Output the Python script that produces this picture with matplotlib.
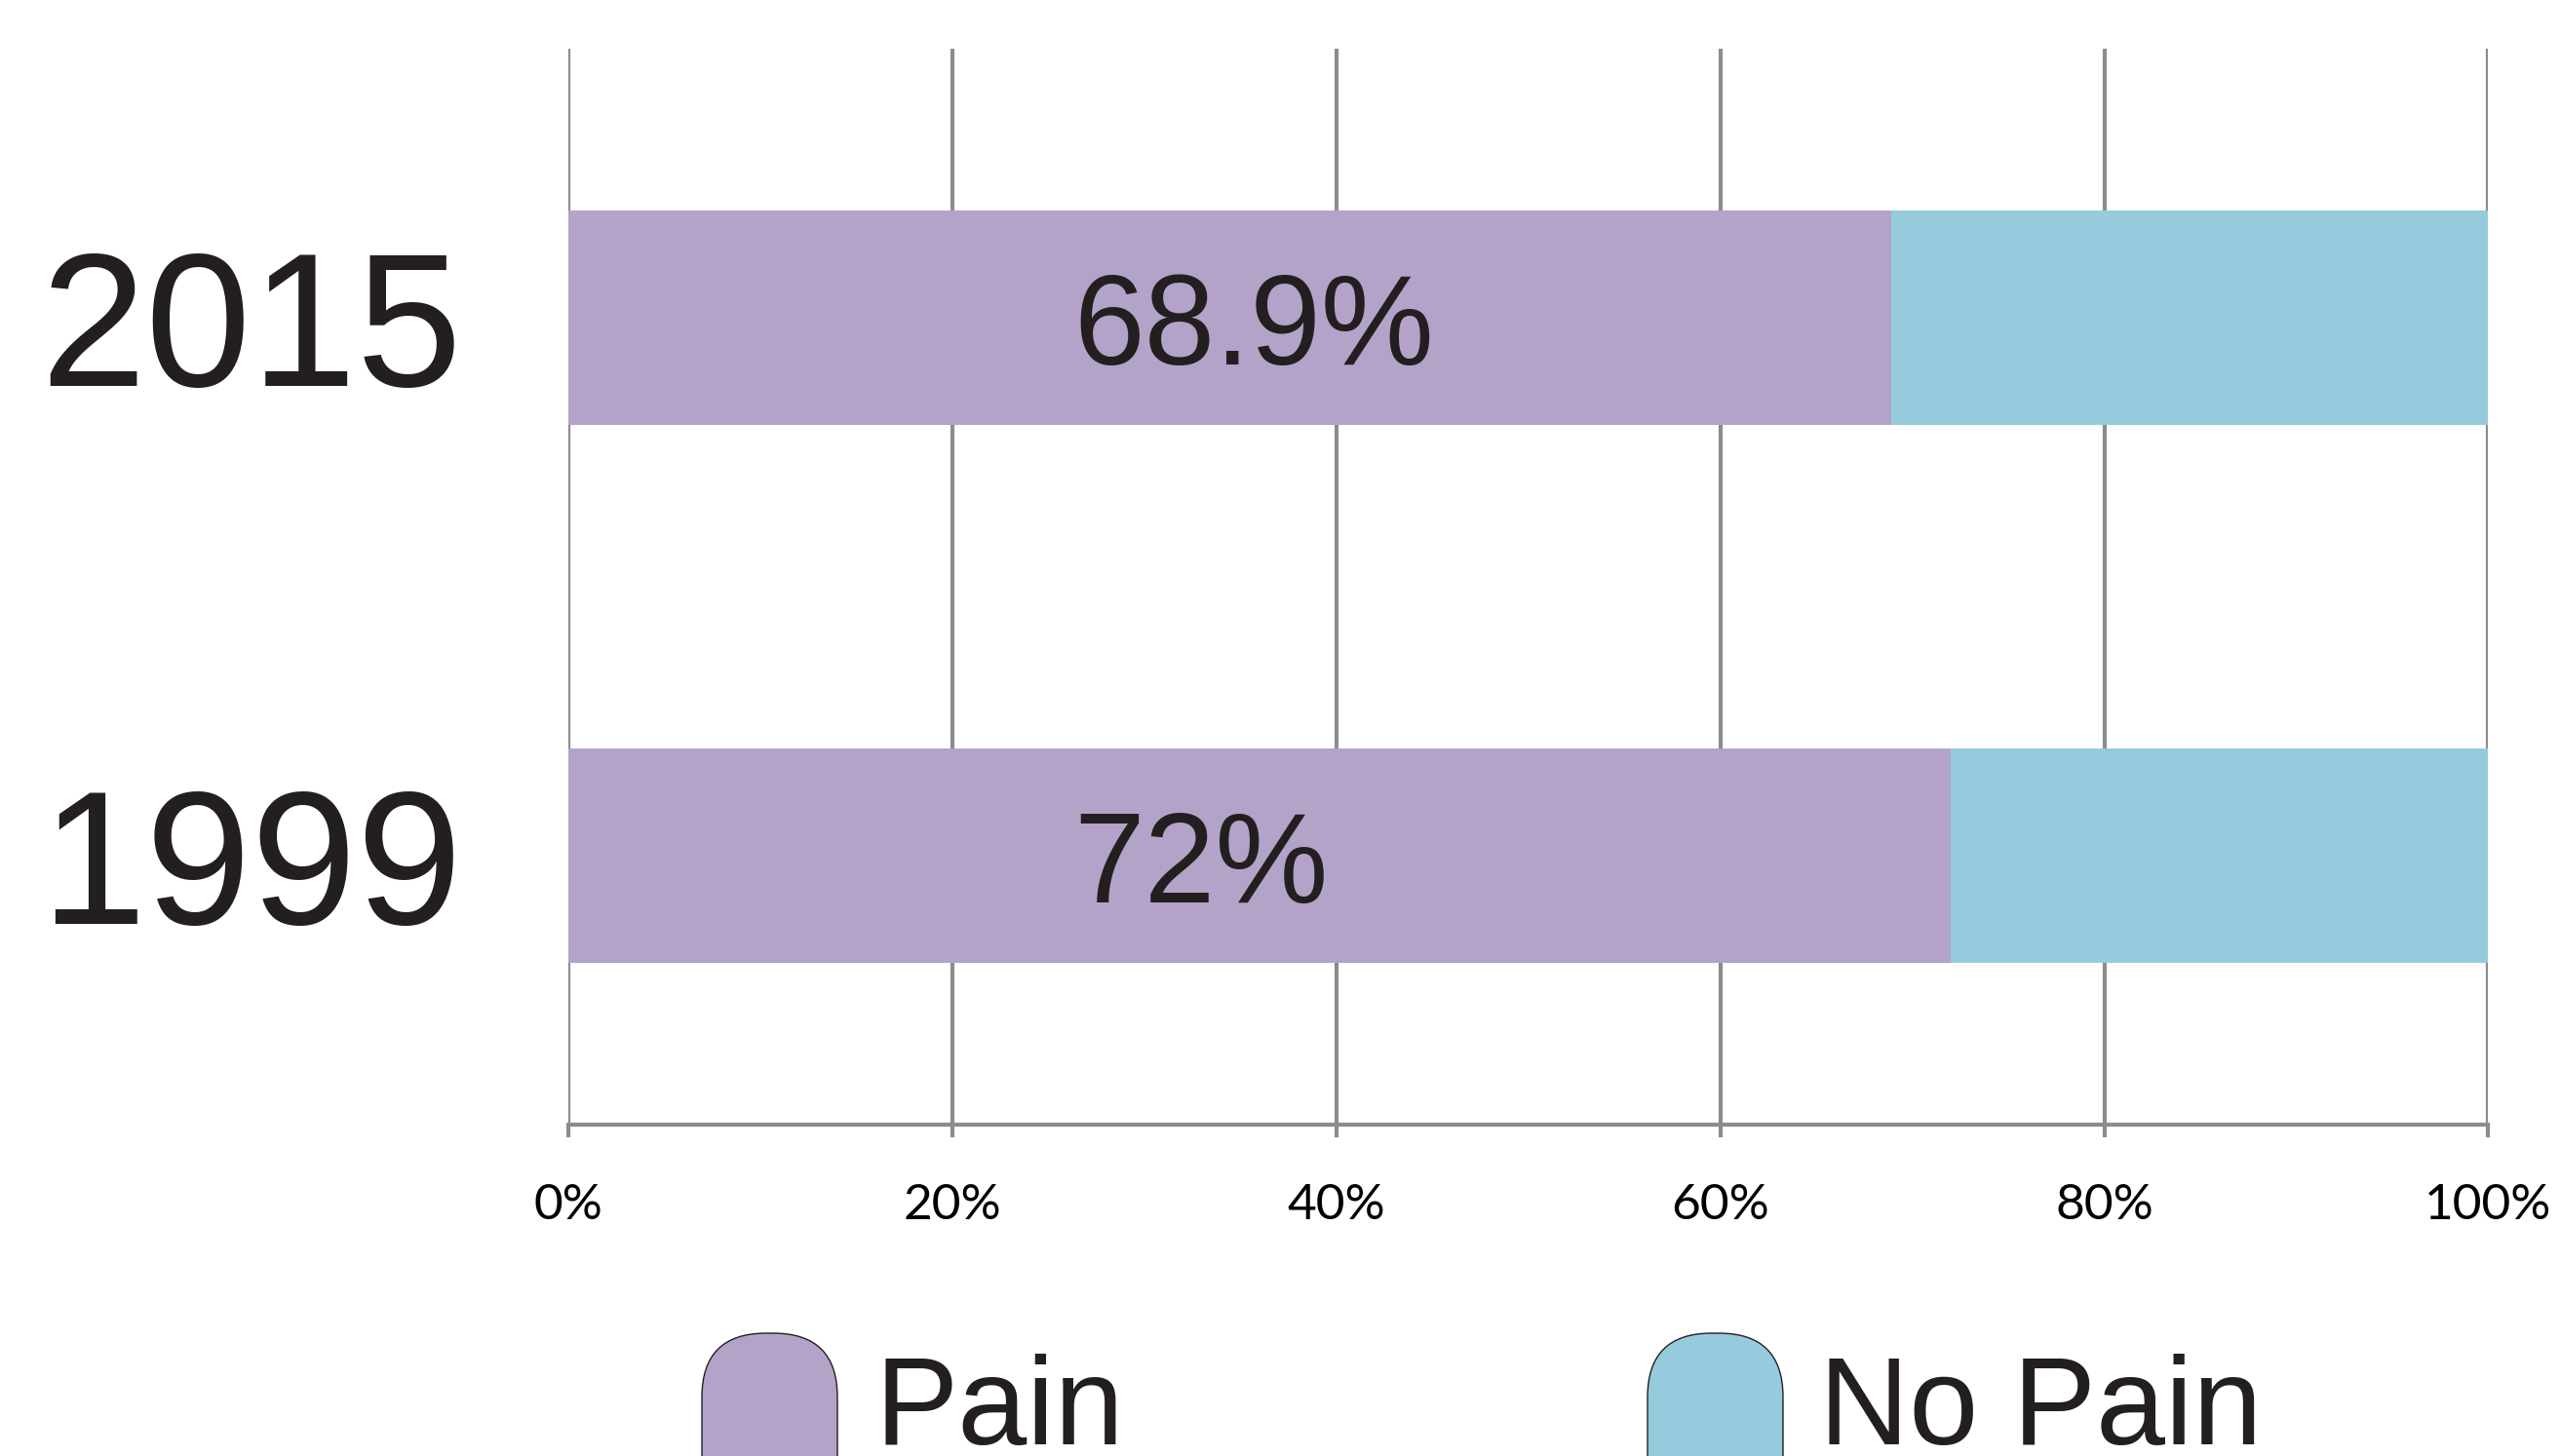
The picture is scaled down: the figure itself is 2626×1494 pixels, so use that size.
import matplotlib
matplotlib.use("Agg")
from matplotlib import pyplot as plt
from matplotlib.patches import FancyBboxPatch

# survey results
years = ["1999", "2015"]
pain = [72.0, 68.9]
pain_labels = ["72%", "68.9%"]
ticks = [0, 20, 40, 60, 80, 100]
tick_labels = ["0%", "20%", "40%", "60%", "80%", "100%"]
series_names = ["Pain", "No Pain"]

PURPLE = "#b3a3c8"
BLUE = "#95cbdd"
GRID = "#8c8c8c"
TEXT = "#231f20"

no_pain = [100 - p for p in pain]

fig = plt.figure(figsize=(26.26, 14.94), dpi=100)
ax = fig.add_axes([0.222, 0.2276, 0.750, 0.739])

ypos = list(range(len(years)))
ax.barh(ypos, pain, height=0.40, color=PURPLE, zorder=2)
ax.barh(ypos, no_pain, left=pain, height=0.40, color=BLUE, zorder=2)

# value labels sit at a common left edge inside the purple bars
for y, lab in zip(ypos, pain_labels):
    ax.text(26.3, y, lab, ha="left", va="center_baseline", fontsize=94,
            family="Liberation Sans", color=TEXT, zorder=3)

ax.set_xlim(0, 100)
ax.set_ylim(-0.5, 1.5)
ax.set_xticks(ticks)
ax.set_xticklabels(tick_labels, fontsize=37, family="Lato", color="black")
ax.set_yticks(ypos)
ax.set_yticklabels(years, fontsize=140, family="Liberation Sans", color=TEXT, ha="center")
ax.tick_params(axis="y", length=0, pad=234)
ax.tick_params(axis="x", length=9, width=3, color=GRID, pad=34)

for x in ticks:
    ax.axvline(x, color=GRID, lw=3, zorder=1)

for side in ["left", "right", "top"]:
    ax.spines[side].set_visible(False)
ax.spines["bottom"].set_color(GRID)
ax.spines["bottom"].set_linewidth(3)

# legend drawn by hand, runs off the bottom edge
W, H = 2626, 1494
legend = [(720, 898, PURPLE), (1690, 1866, BLUE)]
for (bx, tx, col), name in zip(legend, series_names):
    box = FancyBboxPatch((bx / W, -0.07), 139 / W, (1494 - 1368) / H + 0.07,
                         boxstyle="round,pad=0,rounding_size=0.025",
                         transform=fig.transFigure, facecolor=col,
                         edgecolor=TEXT, lw=1, mutation_aspect=W / H)
    fig.patches.append(box)
    fig.text(tx / W, 0.008, name, fontsize=92, family="Liberation Sans",
             color=TEXT, ha="left", va="baseline")

fig.savefig("out.png", dpi=100)
